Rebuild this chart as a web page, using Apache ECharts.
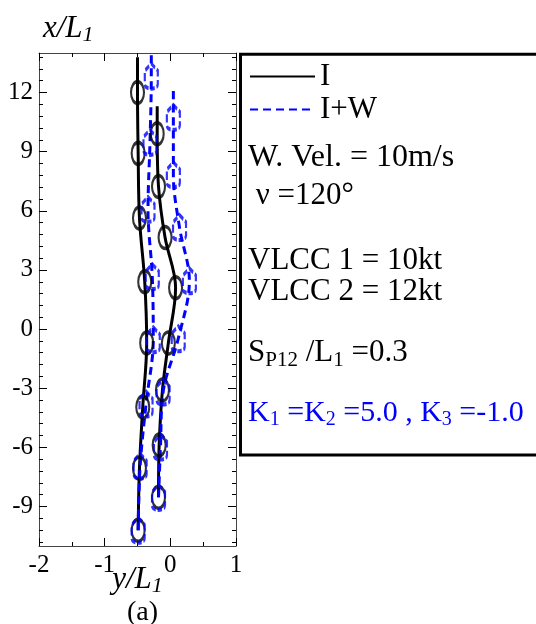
<!DOCTYPE html>
<html><head><meta charset="utf-8">
<script src="https://cdn.jsdelivr.net/npm/echarts@6/dist/echarts.min.js"></script>
<style>html,body{margin:0;padding:0;background:#fff}#c{width:536px;height:624px}</style>
</head><body><div id="c"></div>
<script>
const FONT = '"Liberation Serif", "Times New Roman", serif';

// Tick labels / tick positions
const yTickValues = [-9, -6, -3, 0, 3, 6, 9, 12];
const yMinorTicks = [-10.8,-10.2,-9.6,-8.4,-7.8,-7.2,-6.6,-5.4,-4.8,-4.2,-3.6,-2.4,-1.8,-1.2,-0.6,
  0.6,1.2,1.8,2.4,3.6,4.2,4.8,5.4,6.6,7.2,7.8,8.4,9.6,10.2,10.8,11.4,12.6,13.2,13.8];
const xTickValues = [-2, -1, 0, 1];

// Case I (black): ship positions [y/L1, x/L1] and final track point
const I_shipA = [[-0.49,-10.20],[-0.47,-7.05],[-0.42,-3.95],[-0.36,-0.70],[-0.39,2.40],[-0.47,5.63],[-0.49,8.91],[-0.50,12.00]];
const I_shipA_end = [-0.50, 13.79];
const I_shipB = [[-0.18,-8.53],[-0.17,-5.88],[-0.12,-3.09],[-0.03,-0.70],[0.08,2.10],[-0.08,4.64],[-0.18,7.23],[-0.20,9.91]];
const I_shipB_end = [-0.20, 11.30];

// Case I+W (blue dashed)
const IW_shipA = [[-0.49,-10.20],[-0.46,-6.95],[-0.37,-3.80],[-0.26,-0.54],[-0.275,2.66],[-0.34,6.07],[-0.31,9.47],[-0.29,12.83]];
const IW_shipA_end = [-0.29, 14.2];
const IW_shipB = [[-0.18,-8.53],[-0.15,-5.98],[-0.11,-3.19],[0.12,-0.49],[0.29,2.45],[0.14,5.15],[0.046,7.83],[0.046,10.74]];
const IW_shipB_end = [0.046, 12.17];

const BLUE = '#0000ff';
const SHIP_PATH = 'path://M6,0 L12,9 L12,26 C12,33 0,33 0,26 L0,9 Z';

function trackSeries(name, ships, end, color, dashed) {
  return {
    type: 'line', name: name, data: ships.concat([end]), smooth: 0.35,
    symbol: 'none', clip: true, silent: true, z: dashed ? 3 : 2,
    itemStyle: { color: color },
    lineStyle: { color: color, width: 3, type: dashed ? [8, 5] : 'solid' }
  };
}
function shipSeries(name, ships, blue) {
  return {
    type: 'scatter', name: name, data: ships, silent: true, z: blue ? 5 : 4,
    symbol: blue ? SHIP_PATH : 'circle', symbolSize: blue ? [13, 25] : [13, 22],
    itemStyle: blue
      ? { color: 'rgba(0,0,0,0)', borderColor: BLUE, borderWidth: 3, borderType: [6, 2.5] }
      : { color: 'rgba(0,0,0,0)', borderColor: '#000', borderWidth: 2.7 }
  };
}

const tickLabel = { fontSize: 25, fontFamily: FONT, color: '#000' };
const frameLine = { show: true, onZero: false, lineStyle: { color: '#444', width: 1 } };
const nameRich = {
  i: { fontSize: 31, fontStyle: 'italic', fontFamily: FONT, color: '#000' },
  s: { fontSize: 22, fontStyle: 'italic', fontFamily: FONT, color: '#000', padding: [13, 0, 0, 0] }
};

function yAx(pos, values, len, labels, extra) {
  return Object.assign({
    type: 'value', min: -11, max: 14, position: pos,
    axisLine: values === yTickValues ? frameLine : { show: false, onZero: false },
    axisTick: { show: true, inside: true, length: len, customValues: values, lineStyle: { color: '#000', width: 1 } },
    axisLabel: labels ? Object.assign({ customValues: yTickValues, margin: 6 }, tickLabel) : { show: false },
    splitLine: { show: false }
  }, extra || {});
}
function xAx(pos, labels, extra) {
  return Object.assign({
    type: 'value', min: -2, max: 1, interval: 1, position: pos,
    axisLine: frameLine,
    axisTick: { show: true, inside: true, length: 8, lineStyle: { color: '#000', width: 1 } },
    minorTick: { show: true, splitNumber: 2, length: 4, lineStyle: { color: '#000', width: 1 } },
    axisLabel: labels ? Object.assign({ margin: 7 }, tickLabel) : { show: false },
    splitLine: { show: false }, minorSplitLine: { show: false }
  }, extra || {});
}

const chart = echarts.init(document.getElementById('c'), null, { renderer: 'canvas' });
chart.setOption({
  animation: false,
  backgroundColor: '#fff',
  textStyle: { fontFamily: FONT, color: '#000' },
  grid: { left: 39, right: 300, top: 53, bottom: 78, containLabel: false },
  title: {
    text: '(a)', left: 122, top: 594,
    textStyle: { fontSize: 28, fontFamily: FONT, fontWeight: 'normal', color: '#000' }
  },
  legend: {
    orient: 'vertical', left: 249, top: 61, padding: 0,
    itemWidth: 65, itemHeight: 14, itemGap: 2,
    itemStyle: { opacity: 0 },
    data: ['I', 'I+W'],
    textStyle: { fontSize: 31, fontFamily: FONT, color: '#000' }
  },
  xAxis: [
    xAx('bottom', true, {
      name: '{i|y/L}{s|1}', nameLocation: 'middle', nameGap: 34, nameMoveOverlap: false,
      nameTextStyle: { verticalAlign: 'middle', rich: nameRich }
    }),
    xAx('top', false)
  ],
  yAxis: [
    yAx('left', yTickValues, 8, true, {
      name: '{i|x/L}{s|1}', nameLocation: 'end', nameGap: 24, nameMoveOverlap: false,
      nameTextStyle: { align: 'left', verticalAlign: 'middle', padding: [0, 0, 0, 4], rich: nameRich }
    }),
    yAx('right', yTickValues, 8, false),
    yAx('left', yMinorTicks, 4, false),
    yAx('right', yMinorTicks, 4, false)
  ],
  graphic: [
    { type: 'rect', shape: { x: 240.5, y: 54.3, width: 400, height: 400.7 },
      style: { fill: 'none', stroke: '#000', lineWidth: 3 }, silent: true },
    { type: 'text', x: 248, y: 158, silent: true,
      style: { text: 'W. Vel. = 10m/s', font: '32px ' + FONT, fill: '#000', verticalAlign: 'middle' } },
    { type: 'text', x: 248, y: 196, silent: true,
      style: { text: ' ν =120°', font: '31px ' + FONT, fill: '#000', verticalAlign: 'middle' } },
    { type: 'text', x: 248, y: 261, silent: true,
      style: { text: 'VLCC 1 = 10kt', font: '31px ' + FONT, fill: '#000', verticalAlign: 'middle' } },
    { type: 'text', x: 248, y: 292, silent: true,
      style: { text: 'VLCC 2 = 12kt', font: '31px ' + FONT, fill: '#000', verticalAlign: 'middle' } },
    { type: 'text', x: 248, y: 353, silent: true,
      style: { text: 'S{s|P12} /L{s|1} =0.3', font: '31px ' + FONT, fill: '#000', verticalAlign: 'middle',
        rich: { s: { fontSize: 21, fontFamily: FONT, fill: '#000', padding: [14, 0, 0, 0] } } } },
    { type: 'text', x: 248, y: 413, silent: true,
      style: { text: 'K{s|1} =K{s|2} =5.0 , K{s|3} =-1.0', font: '30px ' + FONT, fill: BLUE, verticalAlign: 'middle',
        rich: { s: { fontSize: 20, fontFamily: FONT, fill: BLUE, padding: [14, 0, 0, 0] } } } }
  ],
  series: [
    trackSeries('I', I_shipA, I_shipA_end, '#000', false),
    trackSeries('I', I_shipB, I_shipB_end, '#000', false),
    trackSeries('I+W', IW_shipA, IW_shipA_end, BLUE, true),
    trackSeries('I+W', IW_shipB, IW_shipB_end, BLUE, true),
    shipSeries('I ships', I_shipA, false),
    shipSeries('I ships', I_shipB, false),
    shipSeries('I+W ships', IW_shipA, true),
    shipSeries('I+W ships', IW_shipB, true)
  ]
});
</script></body></html>
